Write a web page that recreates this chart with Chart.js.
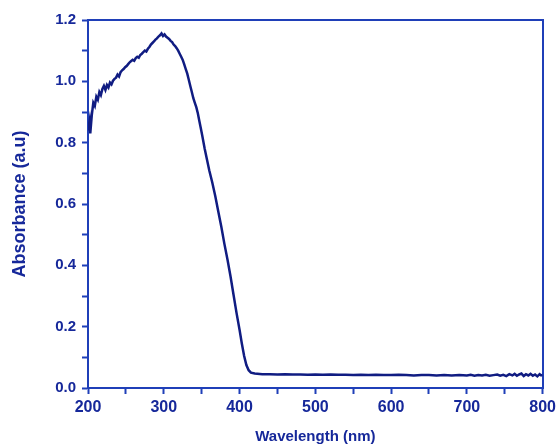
<!DOCTYPE html>
<html>
<head>
<meta charset="utf-8">
<script src="https://cdn.jsdelivr.net/npm/chart.js@4/dist/chart.umd.min.js"></script>
<style>
  html, body { margin: 0; padding: 0; background: #fff; }
  #wrap { width: 560px; height: 444px; }
</style>
</head>
<body>
<div id="wrap"><canvas id="uvChart"></canvas></div>
<script>
// wavelength (nm) and absorbance
const wavelength = [
  200, 202, 203, 205, 207, 209, 211, 213, 215, 217, 219, 221, 223, 225, 227, 229,
  231, 233, 235, 237, 239, 241, 243, 245, 247, 249, 251, 253, 255, 257, 259, 261,
  263, 265, 267, 269, 271, 273, 275, 277, 279, 281, 283, 285, 287, 289, 291, 293,
  295, 297, 299, 301, 303, 305, 307, 309, 311, 313, 315, 317, 319, 321, 323, 325,
  327, 329, 331, 333, 335, 337, 339, 341, 343, 345, 347, 349, 351, 354, 357, 360,
  364, 368, 372, 376, 380, 384, 388, 392, 396, 400, 403, 406, 409, 412, 415, 420,
  430, 440, 450, 460, 470, 480, 490, 500, 510, 520, 530, 540, 550, 560, 570, 580,
  590, 600, 610, 620, 630, 640, 650, 660, 670, 680, 690, 700, 705, 710, 715, 720,
  725, 730, 735, 740, 744, 748, 752, 756, 760, 763, 766, 769, 772, 775, 778, 781,
  784, 787, 790, 793, 796, 798, 800
];
const absorbance = [
  0.84, 0.87, 0.83, 0.89, 0.93, 0.92, 0.95, 0.94, 0.965, 0.955, 0.975, 0.985, 0.972, 0.988, 0.98, 0.996,
  0.99, 1.002, 1.008, 1.012, 1.022, 1.016, 1.03, 1.036, 1.04, 1.046, 1.05, 1.056, 1.062, 1.066, 1.07, 1.067,
  1.076, 1.08, 1.077, 1.086, 1.09, 1.095, 1.1, 1.097, 1.106, 1.112, 1.12, 1.125, 1.13, 1.136, 1.14, 1.146,
  1.15, 1.156, 1.148, 1.153, 1.146, 1.142, 1.138, 1.132, 1.128, 1.12, 1.115, 1.108, 1.1, 1.09, 1.08, 1.07,
  1.055, 1.04, 1.025, 1.005, 0.985, 0.965, 0.945, 0.93, 0.915, 0.895, 0.87, 0.845, 0.82, 0.78, 0.745, 0.71,
  0.67, 0.625, 0.575, 0.525, 0.47, 0.42, 0.365, 0.305, 0.245, 0.19, 0.145, 0.105, 0.075, 0.058, 0.05, 0.047,
  0.045, 0.045, 0.044, 0.045, 0.044, 0.044, 0.043, 0.044, 0.043, 0.044, 0.043, 0.043, 0.042, 0.043, 0.042, 0.043,
  0.042, 0.042, 0.043, 0.042, 0.041, 0.042, 0.042, 0.041, 0.042, 0.041, 0.042, 0.041, 0.043, 0.040, 0.042, 0.041,
  0.043, 0.040, 0.042, 0.044, 0.040, 0.043, 0.039, 0.045, 0.041, 0.046, 0.040, 0.044, 0.047, 0.039, 0.045, 0.041,
  0.046, 0.040, 0.044, 0.038, 0.045, 0.041, 0.043
];
const xTicks = [200, 300, 400, 500, 600, 700, 800];
const yTicks = [0.0, 0.2, 0.4, 0.6, 0.8, 1.0, 1.2];

const axisBlue = '#1f3fb8';
const textBlue = '#16289a';
const fontFamily = '"Liberation Sans", Arial, sans-serif';

const points = wavelength.map((w, i) => ({x: w, y: absorbance[i]}));

new Chart(document.getElementById('uvChart').getContext('2d'), {
  type: 'line',
  data: {
    datasets: [{
      data: points,
      borderColor: '#101c82',
      borderWidth: 2.5,
      pointRadius: 0,
      tension: 0,
      fill: false
    }]
  },
  options: {
    responsive: true,
    maintainAspectRatio: false,
    animation: false,
    layout: {padding: {top: 20, right: 13, left: 0, bottom: 0}},
    plugins: {legend: {display: false}, tooltip: {enabled: false}},
    scales: {
      x: {
        type: 'linear',
        min: 200,
        max: 800,
        afterFit: s => { s.height = 56; },
        border: {color: axisBlue, width: 2},
        grid: {drawOnChartArea: false, drawTicks: true, tickLength: 6, tickColor: axisBlue, tickWidth: 2},
        ticks: {
          stepSize: 50,
          padding: 4,
          maxRotation: 0,
          color: textBlue,
          font: {family: fontFamily, size: 16, weight: 'bold'},
          callback: v => xTicks.includes(v) ? String(v) : ''
        },
        title: {
          display: true,
          text: 'Wavelength (nm)',
          color: textBlue,
          font: {family: fontFamily, size: 15, weight: 'bold'},
          padding: {top: 0, bottom: -2}
        }
      },
      x2: {
        type: 'linear',
        position: 'top',
        min: 200,
        max: 800,
        afterFit: s => { s.height = 0; },
        border: {color: axisBlue, width: 2},
        grid: {display: false},
        ticks: {display: false}
      },
      y: {
        min: 0,
        max: 1.2,
        afterFit: s => { s.width = 88; },
        border: {color: axisBlue, width: 2},
        grid: {drawOnChartArea: false, drawTicks: true, tickLength: 6, tickColor: axisBlue, tickWidth: 2},
        ticks: {
          stepSize: 0.1,
          padding: 6,
          color: textBlue,
          font: {family: fontFamily, size: 15, weight: 'bold'},
          callback: v => {
            const r = Math.round(v * 10) / 10;
            return yTicks.some(t => Math.abs(t - r) < 1e-6) && Math.abs(v - r) < 1e-6 ? r.toFixed(1) : '';
          }
        },
        title: {
          display: true,
          text: 'Absorbance (a.u)',
          color: textBlue,
          font: {family: fontFamily, size: 18, weight: 'bold'},
          padding: {top: 9, bottom: 0}
        }
      },
      y2: {
        position: 'right',
        min: 0,
        max: 1.2,
        afterFit: s => { s.width = 0; },
        border: {color: axisBlue, width: 2},
        grid: {display: false},
        ticks: {display: false}
      }
    }
  }
});
</script>
</body>
</html>
